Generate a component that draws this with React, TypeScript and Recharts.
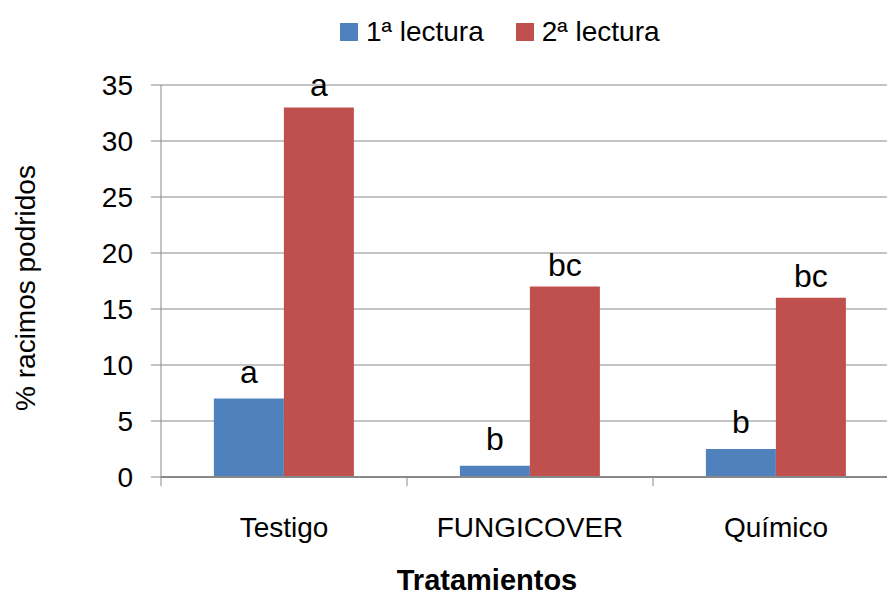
import { BarChart, Bar, XAxis, YAxis, CartesianGrid, Legend, LabelList, Label } from "recharts";

const categories = ["Testigo", "FUNGICOVER", "Químico"];
const lectura1 = [7, 1, 2.5];
const lectura2 = [33, 17, 16];
const letras1 = ["a", "b", "b"];
const letras2 = ["a", "bc", "bc"];
const yTicks = [0, 5, 10, 15, 20, 25, 30, 35];

const seriesNames = ["1ª lectura", "2ª lectura"];
const BLUE = "#4f81bd";
const RED = "#c0504d";
const GRID = "#898989";
const FONT = "'Liberation Sans', Arial, sans-serif";

const data = categories.map((c, i) => ({
  cat: c,
  l1: lectura1[i],
  l2: lectura2[i],
  t1: letras1[i],
  t2: letras2[i],
}));

// category label plus an Excel-style tick mark at the left edge of each band
function CatTick(props: any) {
  const { x, y, payload, index, visibleTicksCount } = props;
  const half = payload?.offset ?? 0;
  const last = index === visibleTicksCount - 1;
  return (
    <g>
      <line x1={x - half} x2={x - half} y1={y} y2={y + 9} stroke={GRID} />
      {last && <line x1={x + half} x2={x + half} y1={y} y2={y + 9} stroke={GRID} />}
      <text x={x} y={y + 60} textAnchor="middle" fill="#000" fontSize={28} fontFamily={FONT}>
        {payload.value}
      </text>
    </g>
  );
}

function LegendBox() {
  const items = [
    { name: seriesNames[0], color: BLUE },
    { name: seriesNames[1], color: RED },
  ];
  return (
    <div style={{ display: "flex", alignItems: "center", height: 40, fontFamily: FONT, fontSize: 28, color: "#000" }}>
      {items.map((it, i) => (
        <div key={it.name} style={{ display: "flex", alignItems: "center", marginRight: i === 0 ? 32 : 0 }}>
          <span style={{ width: 18, height: 18, background: it.color, display: "inline-block", marginRight: 8 }} />
          <span style={{ whiteSpace: "nowrap" }}>{it.name}</span>
        </div>
      ))}
    </div>
  );
}

export default function App() {
  return (
    <div style={{ position: "absolute", left: 0, top: 0, width: 887, height: 595, overflow: "hidden", background: "#fff" }}>
      <BarChart
        width={910}
        height={595}
        data={data}
        margin={{ top: 85, right: 11, bottom: 0, left: 0 }}
        barCategoryGap="21.5%"
        barGap={0}
        style={{ fontFamily: FONT }}
      >
        <CartesianGrid vertical={false} stroke={GRID} />
        <XAxis
          dataKey="cat"
          height={118}
          axisLine={{ stroke: GRID, strokeWidth: 2 }}
          tickLine={false}
          tickSize={0}
          tickMargin={0}
          interval={0}
          tick={<CatTick />}
        >
          <Label
            content={({ viewBox }: any) => (
              <text
                x={viewBox.x + viewBox.width / 2 - 43}
                y={viewBox.y + viewBox.height - 5}
                textAnchor="middle"
                fontFamily={FONT}
                fontSize={29}
                fontWeight="bold"
                fill="#000"
              >
                Tratamientos
              </text>
            )}
          />
        </XAxis>
        <YAxis
          width={161}
          domain={[0, 35]}
          ticks={yTicks}
          interval={0}
          tickSize={10}
          tickMargin={18}
          axisLine={{ stroke: GRID }}
          tickLine={{ stroke: GRID }}
          tick={{ fill: "#000", fontSize: 28, fontFamily: FONT }}
        >
          <Label
            content={({ viewBox }: any) => {
              const cx = viewBox.x + 25;
              const cy = viewBox.y + viewBox.height / 2 + 7;
              return (
                <text
                  x={cx}
                  y={cy}
                  transform={`rotate(-90, ${cx}, ${cy})`}
                  textAnchor="middle"
                  dominantBaseline="central"
                  fontFamily={FONT}
                  fontSize={28}
                  fill="#000"
                >
                  % racimos podridos
                </text>
              );
            }}
          />
        </YAxis>
        <Legend
          verticalAlign="middle"
          align="center"
          content={() => <LegendBox />}
          wrapperStyle={{ top: 12, left: 340, width: "auto", height: 40 }}
        />
        <Bar dataKey="l1" name={seriesNames[0]} fill={BLUE} isAnimationActive={false}>
          <LabelList dataKey="t1" position="top" offset={16} fill="#000" fontSize={32} fontFamily={FONT} />
        </Bar>
        <Bar dataKey="l2" name={seriesNames[1]} fill={RED} isAnimationActive={false}>
          <LabelList dataKey="t2" position="top" offset={11} fill="#000" fontSize={32} fontFamily={FONT} />
        </Bar>
      </BarChart>
    </div>
  );
}
